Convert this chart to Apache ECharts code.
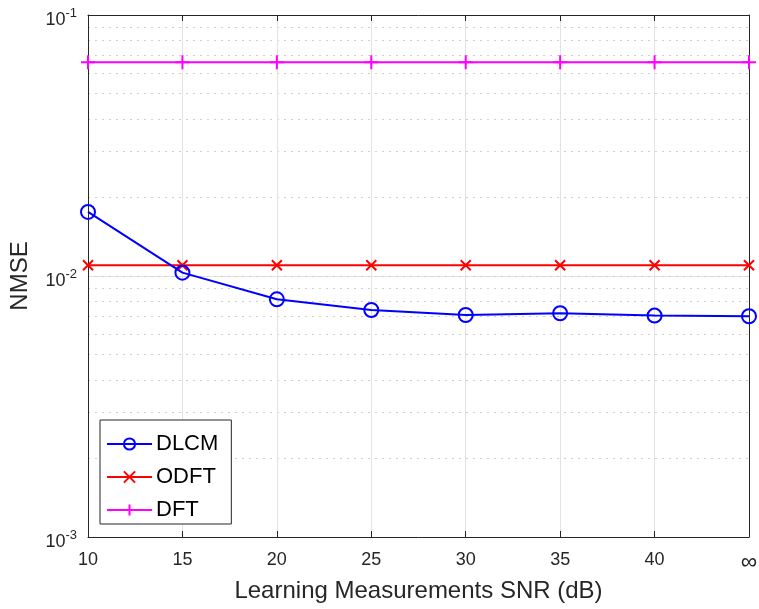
<!DOCTYPE html>
<html>
<head>
<meta charset="utf-8">
<script src="https://cdn.jsdelivr.net/npm/echarts@6/dist/echarts.min.js"></script>
<style>
  html, body { margin: 0; padding: 0; background: #fff; }
  #main { width: 759px; height: 609px; }
</style>
</head>
<body>
<div id="main"></div>
<script>
// x categories (SNR, last one is infinity)
var snr = ['10', '15', '20', '25', '30', '35', '40', '\u221e'];
// NMSE
var dlcm = [0.0176, 0.0103, 0.00814, 0.00741, 0.00709, 0.00720, 0.00705, 0.00701];
var odft = [0.0110, 0.0110, 0.0110, 0.0110, 0.0110, 0.0110, 0.0110, 0.0110];
var dft = [0.0659, 0.0659, 0.0659, 0.0659, 0.0659, 0.0659, 0.0659, 0.0659];
// log axis ticks
var decades = [0.001, 0.01, 0.1];
var minorTicks = [0.002, 0.003, 0.004, 0.005, 0.006, 0.007, 0.008, 0.009,
                  0.02, 0.03, 0.04, 0.05, 0.06, 0.07, 0.08, 0.09];

var FONT = 'Liberation Sans';
var dark = '#262626';

function jian() {
    var dom = document.getElementById('main');
    var myChart = echarts.init(dom);
    var allTicks = decades.concat(minorTicks);
    option = {
        backgroundColor: '#fff',
        animation: false,
        textStyle: { fontFamily: FONT },
        grid: {
            left: 88,
            right: 10,
            top: 15,
            bottom: 72,
            outerBoundsMode: 'none'
        },
        legend: {
            orient: 'vertical',
            left: 100,
            top: 420,
            itemWidth: 45,
            itemHeight: 14,
            itemGap: 11,
            padding: [13, 13, 3, 6],
            borderColor: dark,
            borderWidth: 1,
            backgroundColor: '#fff',
            textStyle: { fontFamily: FONT, fontSize: 22, color: '#000', padding: [0, 0, 0, -1] },
            data: ['DLCM', 'ODFT', 'DFT']
        },
        xAxis: [{
            type: 'category',
            data: snr,
            boundaryGap: false,
            name: 'Learning Measurements SNR (dB)',
            nameLocation: 'middle',
            nameGap: 41,
            nameTextStyle: { fontFamily: FONT, fontSize: 24, color: dark },
            axisLine: { lineStyle: { color: dark, width: 1 } },
            axisTick: { inside: true, length: 6, lineStyle: { color: dark } },
            axisLabel: {
                fontFamily: FONT, fontSize: 18, color: dark, margin: 14,
                formatter: function (v) {
                    return v === '\u221e' ? '{inf|' + v + '}' : v;
                },
                rich: {
                    inf: { fontSize: 23, color: dark, fontFamily: FONT }
                }
            },
            splitLine: { show: true, lineStyle: { color: '#e3e3e3', width: 1 } }
        }, {
            type: 'category',
            data: snr,
            boundaryGap: false,
            position: 'top',
            axisLine: { lineStyle: { color: dark, width: 1 } },
            axisTick: { inside: true, length: 6, lineStyle: { color: dark } },
            axisLabel: { show: false },
            splitLine: { show: false }
        }],
        yAxis: [{
            type: 'log',
            logBase: 10,
            min: 0.001,
            max: 0.1,
            position: 'left',
            name: 'NMSE',
            nameLocation: 'middle',
            nameGap: 56,
            nameTextStyle: { fontFamily: FONT, fontSize: 24, color: dark },
            axisLine: { show: true, lineStyle: { color: dark, width: 1 } },
            axisTick: { inside: true, length: 6, lineStyle: { color: dark } },
            axisLabel: {
                fontFamily: FONT,
                color: dark,
                margin: 11,
                formatter: function (v) {
                    return '{b|10}{s|' + Math.round(Math.log10(v)) + '}';
                },
                rich: {
                    b: { fontSize: 18, color: dark, fontFamily: FONT, padding: [10, 0, 0, 0] },
                    s: { fontSize: 13, color: dark, fontFamily: FONT, padding: [0, 0, 4, 0] }
                }
            },
            splitLine: { show: true, lineStyle: { color: '#e3e3e3', width: 1 } }
        }, {
            type: 'log',
            logBase: 10,
            min: 0.001,
            max: 0.1,
            position: 'right',
            axisLine: { show: true, lineStyle: { color: dark, width: 1 } },
            axisTick: { inside: true, length: 4, customValues: allTicks, lineStyle: { color: dark } },
            axisLabel: { show: false },
            splitLine: { show: true, lineStyle: { color: '#cfcfcf', width: 1, type: [2, 5] } }
        }, {
            type: 'log',
            logBase: 10,
            min: 0.001,
            max: 0.1,
            position: 'left',
            axisLine: { show: false },
            axisTick: { inside: true, length: 4, customValues: minorTicks, lineStyle: { color: dark } },
            axisLabel: { show: false },
            splitLine: { show: false }
        }],
        series: [{
            name: 'DLCM',
            type: 'line',
            data: dlcm,
            symbol: 'circle',
            symbolSize: 14,
            lineStyle: { color: '#0000ff', width: 2 },
            itemStyle: { color: 'rgba(0,0,0,0)', borderColor: '#0000ff', borderWidth: 2 },
            z: 5
        }, {
            name: 'ODFT',
            type: 'line',
            data: odft,
            symbol: 'path://M0,0 L2,2 M2,0 L0,2',
            symbolSize: 10,
            lineStyle: { color: '#ff0000', width: 2 },
            itemStyle: { color: '#ff0000', borderColor: '#ff0000', borderWidth: 2 },
            z: 4
        }, {
            name: 'DFT',
            type: 'line',
            data: dft,
            symbol: 'path://M1,0 L1,2 M0,1 L2,1',
            symbolSize: 14,
            lineStyle: { color: '#ff00ff', width: 2 },
            itemStyle: { color: '#ff00ff', borderColor: '#ff00ff', borderWidth: 2 },
            z: 3
        }]
    };
    myChart.setOption(option, true);
    window.onresize = myChart.resize;
}
jian();
</script>
</body>
</html>
